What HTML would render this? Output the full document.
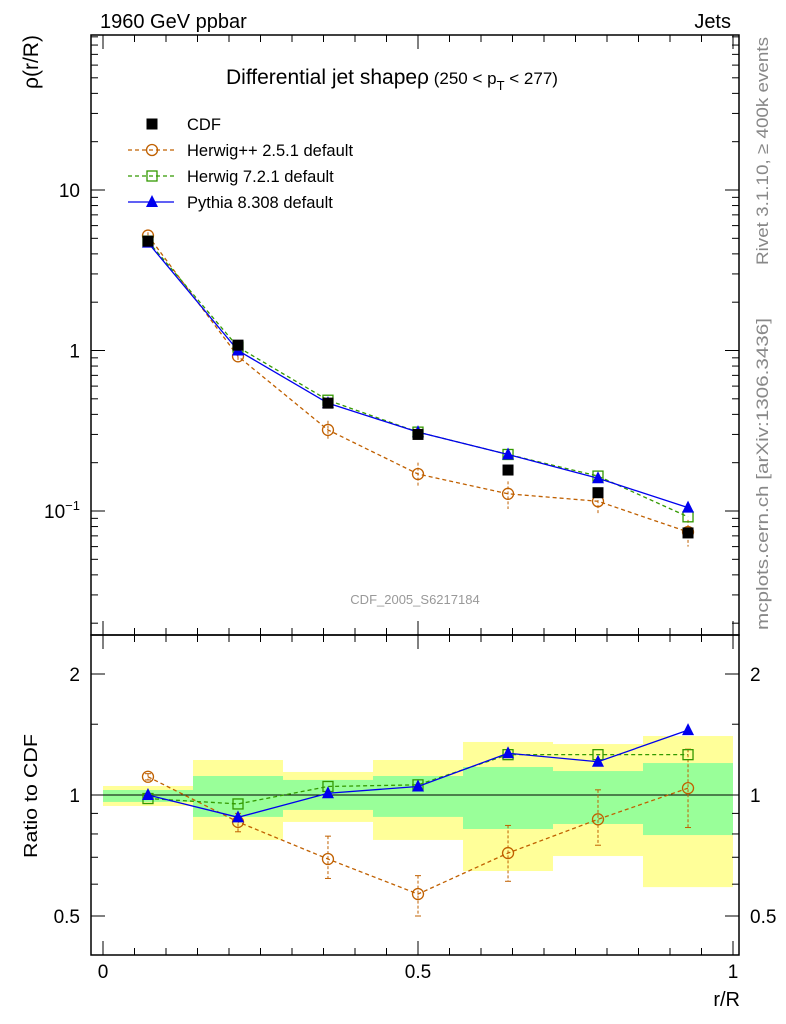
<!DOCTYPE html>
<html><head><meta charset="utf-8"><style>
body{margin:0;background:#fff;}
svg{display:block;font-family:"Liberation Sans",sans-serif;}
</style></head><body>
<svg id="c" width="786" height="1024" xmlns="http://www.w3.org/2000/svg"></svg>
<script>
const xs=[0.0714,0.2143,0.3571,0.5,0.6429,0.7857,0.9286];
const cdf=[4.8,1.08,0.47,0.30,0.18,0.13,0.073];
const hpp=[5.2,0.92,0.32,0.17,0.128,0.115,0.074];
const hppErr=[0.25,0.06,0.045,0.03,0.025,0.02,0.014];
const h7=[4.8,1.05,0.49,0.31,0.225,0.165,0.092];
const py=[4.7,1.0,0.47,0.31,0.225,0.16,0.105];
const rHpp=[1.11,0.857,0.693,0.567,0.717,0.87,1.04];
const rHppLo=[1.09,0.81,0.62,0.50,0.61,0.75,0.83];
const rHppHi=[1.13,0.90,0.79,0.63,0.84,1.03,1.30];
const rH7=[0.98,0.95,1.05,1.06,1.26,1.26,1.26];
const rPy=[1.0,0.88,1.01,1.05,1.27,1.21,1.45];
const yelLo=[0.939,0.773,0.857,0.773,0.647,0.705,0.590];
const yelHi=[1.053,1.222,1.141,1.222,1.355,1.339,1.402];
const grnLo=[0.961,0.882,0.918,0.882,0.823,0.847,0.795];
const grnHi=[1.029,1.115,1.090,1.115,1.174,1.147,1.201];
const S=document.getElementById('c');const NS='http://www.w3.org/2000/svg';
function el(t,a,p){const e=document.createElementNS(NS,t);for(const k in a)e.setAttribute(k,a[k]);(p||S).appendChild(e);return e;}
const L=91,R=739,T=35,M=635,B=955;
const X=v=>103+v*630;
const Y=v=>190-(Math.log10(v)-1)*160.5;
const YR=v=>795-Math.log2(v)*121;
for(let i=0;i<7;i++){const x0=X(i/7),x1=X((i+1)/7);
let r=el('rect',{x:x0,y:YR(yelHi[i]),width:x1-x0,height:YR(yelLo[i])-YR(yelHi[i]),fill:'#ffff99'});

r=el('rect',{x:x0,y:YR(grnHi[i]),width:x1-x0,height:YR(grnLo[i])-YR(grnHi[i]),fill:'#99ff99'});
}
el('line',{x1:L,x2:R,y1:YR(1),y2:YR(1),stroke:'#000'});
el('rect',{x:L,y:T,width:R-L,height:M-T,fill:'none',stroke:'#000','stroke-width':1.5});
el('rect',{x:L,y:M,width:R-L,height:B-M,fill:'none',stroke:'#000','stroke-width':1.5});
for(let k=0;k<=20;k++){const v=k*0.05,x=X(v),len=(k%10==0)?14:7;
[[T,1],[M,-1],[M,1],[B,-1]].forEach(([y,d])=>el('line',{x1:x,x2:x,y1:y,y2:y+d*len,stroke:'#000'}));}
[['0',0],['0.5',0.5],['1',1]].forEach(([t,v])=>{const e=el('text',{x:X(v),y:978,'text-anchor':'middle','font-size':19});e.textContent=t;});
for(let d=-2;d<=1;d++)for(let m=1;m<=9;m++){const v=m*Math.pow(10,d),y=Y(v);if(y<T||y>M)continue;const len=m==1?14:7;
el('line',{x1:L,x2:L+len,y1:y,y2:y,stroke:'#000'});el('line',{x1:R,x2:R-len,y1:y,y2:y,stroke:'#000'});}
let t=el('text',{x:80,y:Y(10)+7,'text-anchor':'end','font-size':19});t.textContent='10';
t=el('text',{x:80,y:Y(1)+7,'text-anchor':'end','font-size':19});t.textContent='1';
t=el('text',{x:80,y:Y(0.1)+7,'text-anchor':'end','font-size':19});t.innerHTML='10<tspan dy="-8" font-size="13">−1</tspan>';
[0.5,0.6,0.7,0.8,0.9,1,1.5,2].forEach(v=>{const y=YR(v),len=(v==0.5||v==1||v==2)?14:7;
el('line',{x1:L,x2:L+len,y1:y,y2:y,stroke:'#000'});el('line',{x1:R,x2:R-len,y1:y,y2:y,stroke:'#000'});});
[['2',2],['1',1],['0.5',0.5]].forEach(([s,v])=>{let e=el('text',{x:80,y:YR(v)+7,'text-anchor':'end','font-size':19});e.textContent=s;
e=el('text',{x:750,y:YR(v)+7,'font-size':19});e.textContent=s;});
function txt(s,a,name){const e=el('text',a);e.textContent=s;return e;}
txt('1960 GeV ppbar',{x:100,y:28,'font-size':20},'energy-label');
txt('Jets',{x:731,y:28,'font-size':20,'text-anchor':'end'},'process-label');
t=el('text',{x:226,y:84,'font-size':21});t.innerHTML='Differential jet shapeρ<tspan font-size="17"> (250 &lt; p</tspan><tspan font-size="13" dy="6">T</tspan><tspan font-size="17" dy="-6"> &lt; 277)</tspan>';

txt('ρ(r/R)',{transform:'translate(38,62) rotate(-90)','font-size':21,'text-anchor':'middle'},'y-axis-title');
txt('Ratio to CDF',{transform:'translate(37,796) rotate(-90)','font-size':18,'text-anchor':'middle',textLength:124,lengthAdjust:'spacingAndGlyphs'},'ratio-axis-title');
txt('r/R',{x:740,y:1006,'font-size':20,'text-anchor':'end'},'x-axis-title');
txt('CDF_2005_S6217184',{x:415,y:604,'font-size':13,fill:'#999','text-anchor':'middle'},'analysis-watermark');
txt('Rivet 3.1.10, ≥ 400k events',{transform:'translate(768,151) rotate(-90)','font-size':17,fill:'#888','text-anchor':'middle',textLength:228,lengthAdjust:'spacingAndGlyphs'},'rivet-label');
txt('mcplots.cern.ch [arXiv:1306.3436]',{transform:'translate(768,474) rotate(-90)','font-size':17,fill:'#888','text-anchor':'middle',textLength:312,lengthAdjust:'spacingAndGlyphs'},'mcplots-label');
function mk(type,x,y,c){if(type=='sq')return el('rect',{x:x-5.5,y:y-5.5,width:11,height:11,fill:c});
if(type=='osq')return el('rect',{x:x-5,y:y-5,width:10,height:10,fill:'none',stroke:c,'stroke-width':1.3});
if(type=='oc')return el('circle',{cx:x,cy:y,r:5.5,fill:'none',stroke:c,'stroke-width':1.3});
return el('polygon',{points:`${x},${y-7} ${x-6},${y+5} ${x+6},${y+5}`,fill:c});}
function series(vals,yf,c,dash,type,name){
const pts=vals.map((v,i)=>X(xs[i])+','+yf(v)).join(' ');
const l=el('polyline',{points:pts,fill:'none',stroke:c,'stroke-width':1.3,'stroke-dasharray':dash||'none'});

vals.forEach((v,i)=>{const m=mk(type,X(xs[i]),yf(v),c);});}
xs.forEach((x,i)=>{el('line',{x1:X(x),x2:X(x),y1:Y(hpp[i]+hppErr[i]),y2:Y(hpp[i]-hppErr[i]),stroke:'#c06000','stroke-dasharray':'3,2'});
el('line',{x1:X(x),x2:X(x),y1:YR(rHppHi[i]),y2:YR(rHppLo[i]),stroke:'#c06000','stroke-dasharray':'3,2'});
[rHppHi[i],rHppLo[i]].forEach(v=>el('line',{x1:X(x)-3,x2:X(x)+3,y1:YR(v),y2:YR(v),stroke:'#c06000'}));});
series(hpp,Y,'#c06000','4,3','oc','herwigpp');
series(h7,Y,'#339900','4,3','osq','herwig7');
series(py,Y,'#0000ee',null,'tri','pythia');
cdf.forEach((v,i)=>{const m=mk('sq',X(xs[i]),Y(v),'#000');});
series(rHpp,YR,'#c06000','4,3','oc','ratio-herwigpp');
series(rH7,YR,'#339900','4,3','osq','ratio-herwig7');
series(rPy,YR,'#0000ee',null,'tri','ratio-pythia');
const leg=[['CDF','#000',null,'sq'],['Herwig++ 2.5.1 default','#c06000','4,3','oc'],['Herwig 7.2.1 default','#339900','4,3','osq'],['Pythia 8.308 default','#0000ee',null,'tri']];
leg.forEach((d,i)=>{const y=124+i*26;
if(i>0)el('line',{x1:128,x2:174,y1:y,y2:y,stroke:d[1],'stroke-width':1.3,'stroke-dasharray':d[2]||'none'});
mk(d[3],152,y,d[1]);
txt(d[0],{x:187,y:y+6,'font-size':16.5},'legend-entry');});
</script>
</body></html>
